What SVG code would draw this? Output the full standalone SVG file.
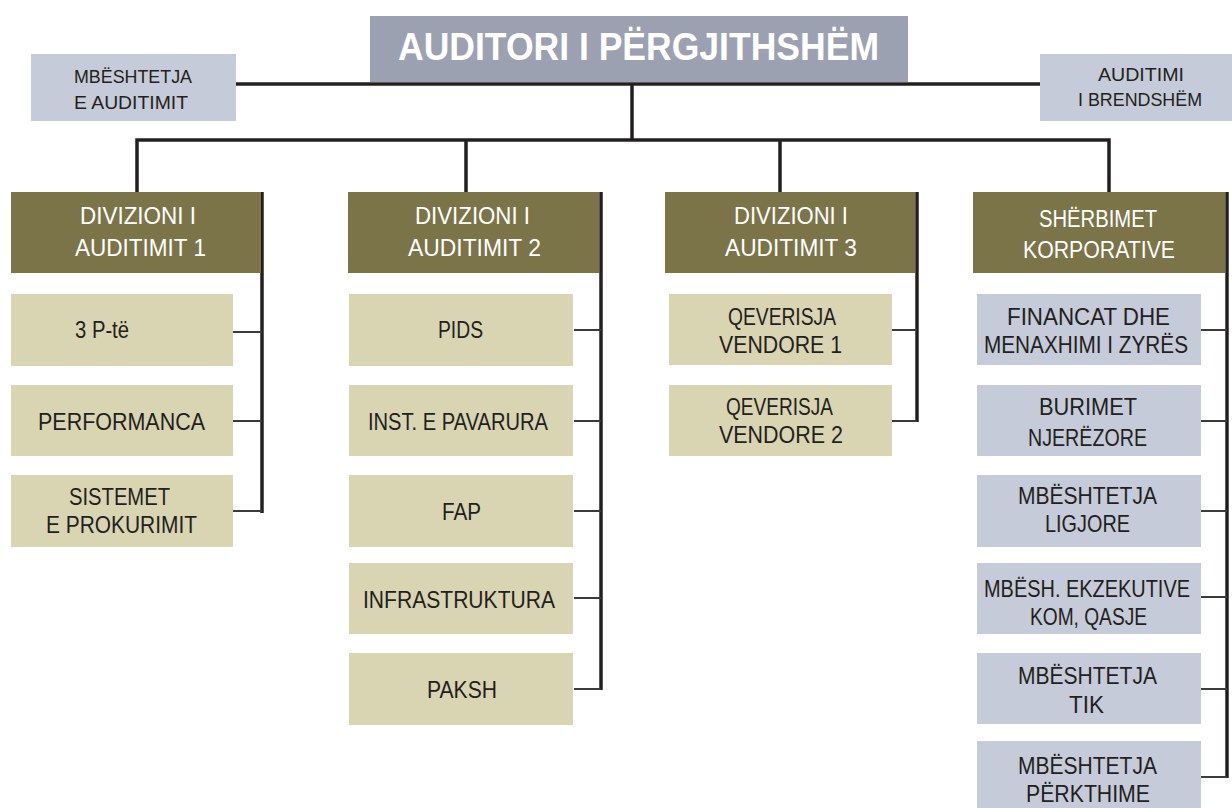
<svg xmlns="http://www.w3.org/2000/svg" width="1232" height="808" viewBox="0 0 1232 808">
<style>
text{font-family:"Liberation Sans",Arial,sans-serif;}
.title{fill:#ffffff;font-size:38px;font-weight:bold;}
.div{fill:#ffffff;font-size:23px;}
.sub{fill:#231f20;font-size:24px;}
.side{fill:#231f20;font-size:18px;}
.ctop{fill:#9ba1b1;}
.cside{fill:#c5cbd8;}
.cdiv{fill:#7a7448;}
.csub{fill:#d9d4b1;}
.ccorp{fill:#c5cbd8;}
.main{stroke:#231f20;stroke-width:3.5;fill:none;}
.thin{stroke:#3a3a3a;stroke-width:2;fill:none;}
</style>
<rect width="1232" height="808" fill="#ffffff"/>

<g id="connectors">
<line class="main" x1="236" y1="84" x2="1040" y2="84"/>
<line class="main" x1="632" y1="84" x2="632" y2="140"/>
<polyline class="main" points="137,192 137,140 1109,140 1109,192"/>
<line class="main" x1="466" y1="140" x2="466" y2="192"/>
<line class="main" x1="780" y1="140" x2="780" y2="192"/>
<line class="main" x1="262" y1="192" x2="262" y2="513"/>
<line class="main" x1="601" y1="192" x2="601" y2="690"/>
<line class="main" x1="917" y1="192" x2="917" y2="422"/>
<line class="main" x1="1227" y1="192" x2="1227" y2="778"/>
<line class="thin" x1="233" y1="332" x2="262" y2="332"/>
<line class="thin" x1="233" y1="421" x2="262" y2="421"/>
<line class="thin" x1="233" y1="511" x2="262" y2="511"/>
<line class="thin" x1="574" y1="330" x2="601" y2="330"/>
<line class="thin" x1="574" y1="421" x2="601" y2="421"/>
<line class="thin" x1="574" y1="511" x2="601" y2="511"/>
<line class="thin" x1="574" y1="598" x2="601" y2="598"/>
<line class="thin" x1="574" y1="689" x2="601" y2="689"/>
<line class="thin" x1="892" y1="330" x2="917" y2="330"/>
<line class="thin" x1="892" y1="421" x2="917" y2="421"/>
<line class="thin" x1="1201" y1="330" x2="1227" y2="330"/>
<line class="thin" x1="1201" y1="421" x2="1227" y2="421"/>
<line class="thin" x1="1201" y1="511" x2="1227" y2="511"/>
<line class="thin" x1="1201" y1="597" x2="1227" y2="597"/>
<line class="thin" x1="1201" y1="689" x2="1227" y2="689"/>
<line class="thin" x1="1201" y1="777" x2="1227" y2="777"/>
</g>

<g id="top">
<rect class="ctop" x="370" y="16" width="538" height="66"/>
<text class="title" x="398" y="60" textLength="481" lengthAdjust="spacingAndGlyphs">AUDITORI I PËRGJITHSHËM</text>
</g>
<g id="support-audit">
<rect class="cside" x="31" y="54" width="205" height="67"/>
<text class="side" x="74" y="83" textLength="118" lengthAdjust="spacingAndGlyphs">MBËSHTETJA</text>
<text class="side" x="74" y="109" textLength="114" lengthAdjust="spacingAndGlyphs">E AUDITIMIT</text>
</g>
<g id="internal-audit">
<rect class="cside" x="1040" y="54" width="192" height="67"/>
<text class="side" x="1098" y="81" textLength="86" lengthAdjust="spacingAndGlyphs">AUDITIMI</text>
<text class="side" x="1078" y="106" textLength="124" lengthAdjust="spacingAndGlyphs">I BRENDSHËM</text>
</g>

<g id="div1">
<rect class="cdiv" x="11" y="192" width="250" height="81"/>
<text class="div" x="80" y="224" textLength="116" lengthAdjust="spacingAndGlyphs">DIVIZIONI I</text>
<text class="div" x="75" y="256" textLength="131" lengthAdjust="spacingAndGlyphs">AUDITIMIT 1</text>
</g>
<g id="div2">
<rect class="cdiv" x="348" y="192" width="251" height="81"/>
<text class="div" x="415" y="224" textLength="115" lengthAdjust="spacingAndGlyphs">DIVIZIONI I</text>
<text class="div" x="408" y="256" textLength="133" lengthAdjust="spacingAndGlyphs">AUDITIMIT 2</text>
</g>
<g id="div3">
<rect class="cdiv" x="665" y="192" width="250" height="81"/>
<text class="div" x="734" y="224" textLength="114" lengthAdjust="spacingAndGlyphs">DIVIZIONI I</text>
<text class="div" x="725" y="256" textLength="132" lengthAdjust="spacingAndGlyphs">AUDITIMIT 3</text>
</g>
<g id="corp">
<rect class="cdiv" x="973" y="192" width="252" height="81"/>
<text class="div" x="1039" y="227" textLength="118" lengthAdjust="spacingAndGlyphs">SHËRBIMET</text>
<text class="div" x="1023" y="258" textLength="152" lengthAdjust="spacingAndGlyphs">KORPORATIVE</text>
</g>

<g id="p3">
<rect class="csub" x="11" y="294" width="222" height="72"/>
<text class="sub" x="75" y="338" textLength="54" lengthAdjust="spacingAndGlyphs">3 P-të</text>
</g>
<g id="performanca">
<rect class="csub" x="11" y="385" width="222" height="71"/>
<text class="sub" x="38" y="430" textLength="167" lengthAdjust="spacingAndGlyphs">PERFORMANCA</text>
</g>
<g id="sistemet">
<rect class="csub" x="11" y="475" width="222" height="72"/>
<text class="sub" x="69" y="505" textLength="101" lengthAdjust="spacingAndGlyphs">SISTEMET</text>
<text class="sub" x="46" y="533" textLength="151" lengthAdjust="spacingAndGlyphs">E PROKURIMIT</text>
</g>

<g id="pids">
<rect class="csub" x="349" y="294" width="224" height="72"/>
<text class="sub" x="438" y="338" textLength="45" lengthAdjust="spacingAndGlyphs">PIDS</text>
</g>
<g id="inst">
<rect class="csub" x="349" y="385" width="224" height="71"/>
<text class="sub" x="368" y="430" textLength="180" lengthAdjust="spacingAndGlyphs">INST. E PAVARURA</text>
</g>
<g id="fap">
<rect class="csub" x="349" y="475" width="224" height="72"/>
<text class="sub" x="442" y="520" textLength="39" lengthAdjust="spacingAndGlyphs">FAP</text>
</g>
<g id="infra">
<rect class="csub" x="349" y="563" width="224" height="71"/>
<text class="sub" x="363" y="608" textLength="192" lengthAdjust="spacingAndGlyphs">INFRASTRUKTURA</text>
</g>
<g id="paksh">
<rect class="csub" x="349" y="653" width="224" height="72"/>
<text class="sub" x="427" y="698" textLength="70" lengthAdjust="spacingAndGlyphs">PAKSH</text>
</g>

<g id="qv1">
<rect class="csub" x="669" y="294" width="223" height="71"/>
<text class="sub" x="728" y="325" textLength="108" lengthAdjust="spacingAndGlyphs">QEVERISJA</text>
<text class="sub" x="719" y="353" textLength="123" lengthAdjust="spacingAndGlyphs">VENDORE 1</text>
</g>
<g id="qv2">
<rect class="csub" x="669" y="385" width="223" height="71"/>
<text class="sub" x="726" y="415" textLength="107" lengthAdjust="spacingAndGlyphs">QEVERISJA</text>
<text class="sub" x="719" y="443" textLength="124" lengthAdjust="spacingAndGlyphs">VENDORE 2</text>
</g>

<g id="financat">
<rect class="ccorp" x="977" y="294" width="224" height="71"/>
<text class="sub" x="1007" y="325" textLength="163" lengthAdjust="spacingAndGlyphs">FINANCAT DHE</text>
<text class="sub" x="984" y="353" textLength="204" lengthAdjust="spacingAndGlyphs">MENAXHIMI I ZYRËS</text>
</g>
<g id="burimet">
<rect class="ccorp" x="977" y="385" width="224" height="71"/>
<text class="sub" x="1039" y="415" textLength="98" lengthAdjust="spacingAndGlyphs">BURIMET</text>
<text class="sub" x="1028" y="446" textLength="119" lengthAdjust="spacingAndGlyphs">NJERËZORE</text>
</g>
<g id="ligjore">
<rect class="ccorp" x="977" y="475" width="224" height="72"/>
<text class="sub" x="1018" y="504" textLength="139" lengthAdjust="spacingAndGlyphs">MBËSHTETJA</text>
<text class="sub" x="1045" y="532" textLength="85" lengthAdjust="spacingAndGlyphs">LIGJORE</text>
</g>
<g id="ekzekutive">
<rect class="ccorp" x="977" y="563" width="224" height="71"/>
<text class="sub" x="984" y="597" textLength="206" lengthAdjust="spacingAndGlyphs">MBËSH. EKZEKUTIVE</text>
<text class="sub" x="1030" y="625" textLength="117" lengthAdjust="spacingAndGlyphs">KOM, QASJE</text>
</g>
<g id="tik">
<rect class="ccorp" x="977" y="653" width="224" height="71"/>
<text class="sub" x="1018" y="684" textLength="139" lengthAdjust="spacingAndGlyphs">MBËSHTETJA</text>
<text class="sub" x="1069" y="713" textLength="35" lengthAdjust="spacingAndGlyphs">TIK</text>
</g>
<g id="perkthime">
<rect class="ccorp" x="977" y="741" width="224" height="67"/>
<text class="sub" x="1018" y="774" textLength="139" lengthAdjust="spacingAndGlyphs">MBËSHTETJA</text>
<text class="sub" x="1026" y="802" textLength="124" lengthAdjust="spacingAndGlyphs">PËRKTHIME</text>
</g>
</svg>
